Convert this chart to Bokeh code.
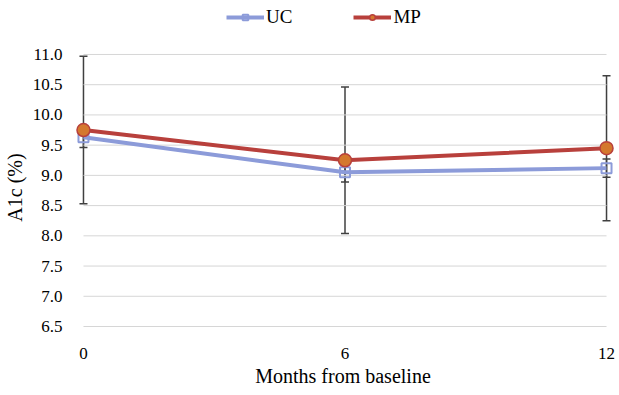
from bokeh.plotting import figure
from bokeh.layouts import column
from bokeh.models import Range1d, FixedTicker, Whisker, ColumnDataSource, Legend, LegendItem, NumeralTickFormatter
from bokeh.embed import file_html
from bokeh.resources import INLINE

months = [0, 6, 12]
uc_mean = [9.63, 9.05, 9.12]
uc_err = [0.17, 0.16, 0.15]
mp_mean = [9.75, 9.25, 9.45]
mp_err = [1.22, 1.21, 1.20]
y_ticks = [6.5, 7.0, 7.5, 8.0, 8.5, 9.0, 9.5, 10.0, 10.5, 11.0]
x_ticks = [0, 6, 12]
series_names = ["UC", "MP"]

FONT = "Liberation Serif"
UC_COL = "#8C9BD9"
MP_COL = "#B8403C"
MP_FILL = "#D4782E"
ERR_COL = "#404040"

# ---------- main chart ----------
p = figure(width=615, height=348, output_backend="svg", toolbar_location=None,
           x_range=Range1d(-0.2748, 12.183), y_range=Range1d(6.434, 11.165),
           min_border_left=70, min_border_right=1, min_border_top=0, min_border_bottom=62)
p.outline_line_color = None
p.xgrid.visible = False
p.ygrid.visible = False

p.segment(x0=[x_ticks[0]] * len(y_ticks), x1=[x_ticks[-1]] * len(y_ticks), y0=y_ticks, y1=y_ticks,
          line_color="#D6D6D6", line_width=1)

p.line(months, uc_mean, line_color=UC_COL, line_width=4)
p.line(months, mp_mean, line_color=MP_COL, line_width=4)

for mean, err in ((mp_mean, mp_err), (uc_mean, uc_err)):
    src = ColumnDataSource(dict(x=months, lo=[m - e for m, e in zip(mean, err)],
                                hi=[m + e for m, e in zip(mean, err)]))
    w = Whisker(base="x", lower="lo", upper="hi", source=src, line_color=ERR_COL, line_width=1.5)
    for head in (w.lower_head, w.upper_head):
        head.size = 8
        head.line_color = ERR_COL
        head.line_width = 1.5
    p.add_layout(w)

p.scatter(months, uc_mean, marker="square", size=10, line_color=UC_COL, line_width=2, fill_alpha=0)
p.scatter(months, mp_mean, marker="circle", size=13, line_color=MP_COL, line_width=1.5,
          fill_color=MP_FILL)

p.xaxis.ticker = FixedTicker(ticks=x_ticks)
p.yaxis.ticker = FixedTicker(ticks=y_ticks)
p.yaxis.formatter = NumeralTickFormatter(format="0.0")
for ax in (p.xaxis[0], p.yaxis[0]):
    ax.axis_line_color = None
    ax.major_tick_line_color = None
    ax.minor_tick_line_color = None
    ax.major_label_text_font = FONT
    ax.major_label_text_font_size = "17px"
    ax.major_label_text_color = "#000000"
    ax.axis_label_text_font = FONT
    ax.axis_label_text_font_size = "20px"
    ax.axis_label_text_font_style = "normal"
    ax.axis_label_text_color = "#000000"
p.xaxis.axis_label = "Months from baseline"
p.yaxis.axis_label = "A1c (%)"
p.xaxis.major_label_standoff = 11
p.xaxis.axis_label_standoff = 3
p.yaxis.major_label_standoff = 3
p.yaxis.axis_label_standoff = 4

# ---------- legend strip (series drawn out of its view, only the legend shows) ----------
lg = figure(width=615, height=44, output_backend="svg", toolbar_location=None,
            x_axis_type=None, y_axis_type=None, min_border=0,
            x_range=Range1d(-0.2748, 12.183), y_range=Range1d(100, 101))
lg.outline_line_color = None
lg.xgrid.visible = False
lg.ygrid.visible = False
l_uc = lg.line(months, uc_mean, line_color=UC_COL, line_width=4)
s_uc = lg.scatter(months, uc_mean, marker="square", size=10, line_color=UC_COL, line_width=2, fill_alpha=0)
l_mp = lg.line(months, mp_mean, line_color=MP_COL, line_width=4)
s_mp = lg.scatter(months, mp_mean, marker="circle", size=13, line_color=MP_COL, line_width=1.5,
                  fill_color=MP_FILL)

legend = Legend(items=[LegendItem(label=series_names[0], renderers=[l_uc, s_uc]),
                       LegendItem(label=series_names[1], renderers=[l_mp, s_mp])],
                orientation="horizontal", location=(155, 16))
legend.border_line_color = None
legend.background_fill_alpha = 0
legend.label_text_font = FONT
legend.label_text_font_size = "19px"
legend.label_text_color = "#000000"
legend.glyph_width = 38
legend.glyph_height = 14
legend.label_height = 14
legend.label_standoff = 2
legend.spacing = 61
legend.padding = 0
legend.margin = 0
lg.add_layout(legend, "center")

open("out.html", "w").write(file_html(column(lg, p, spacing=0), INLINE))
